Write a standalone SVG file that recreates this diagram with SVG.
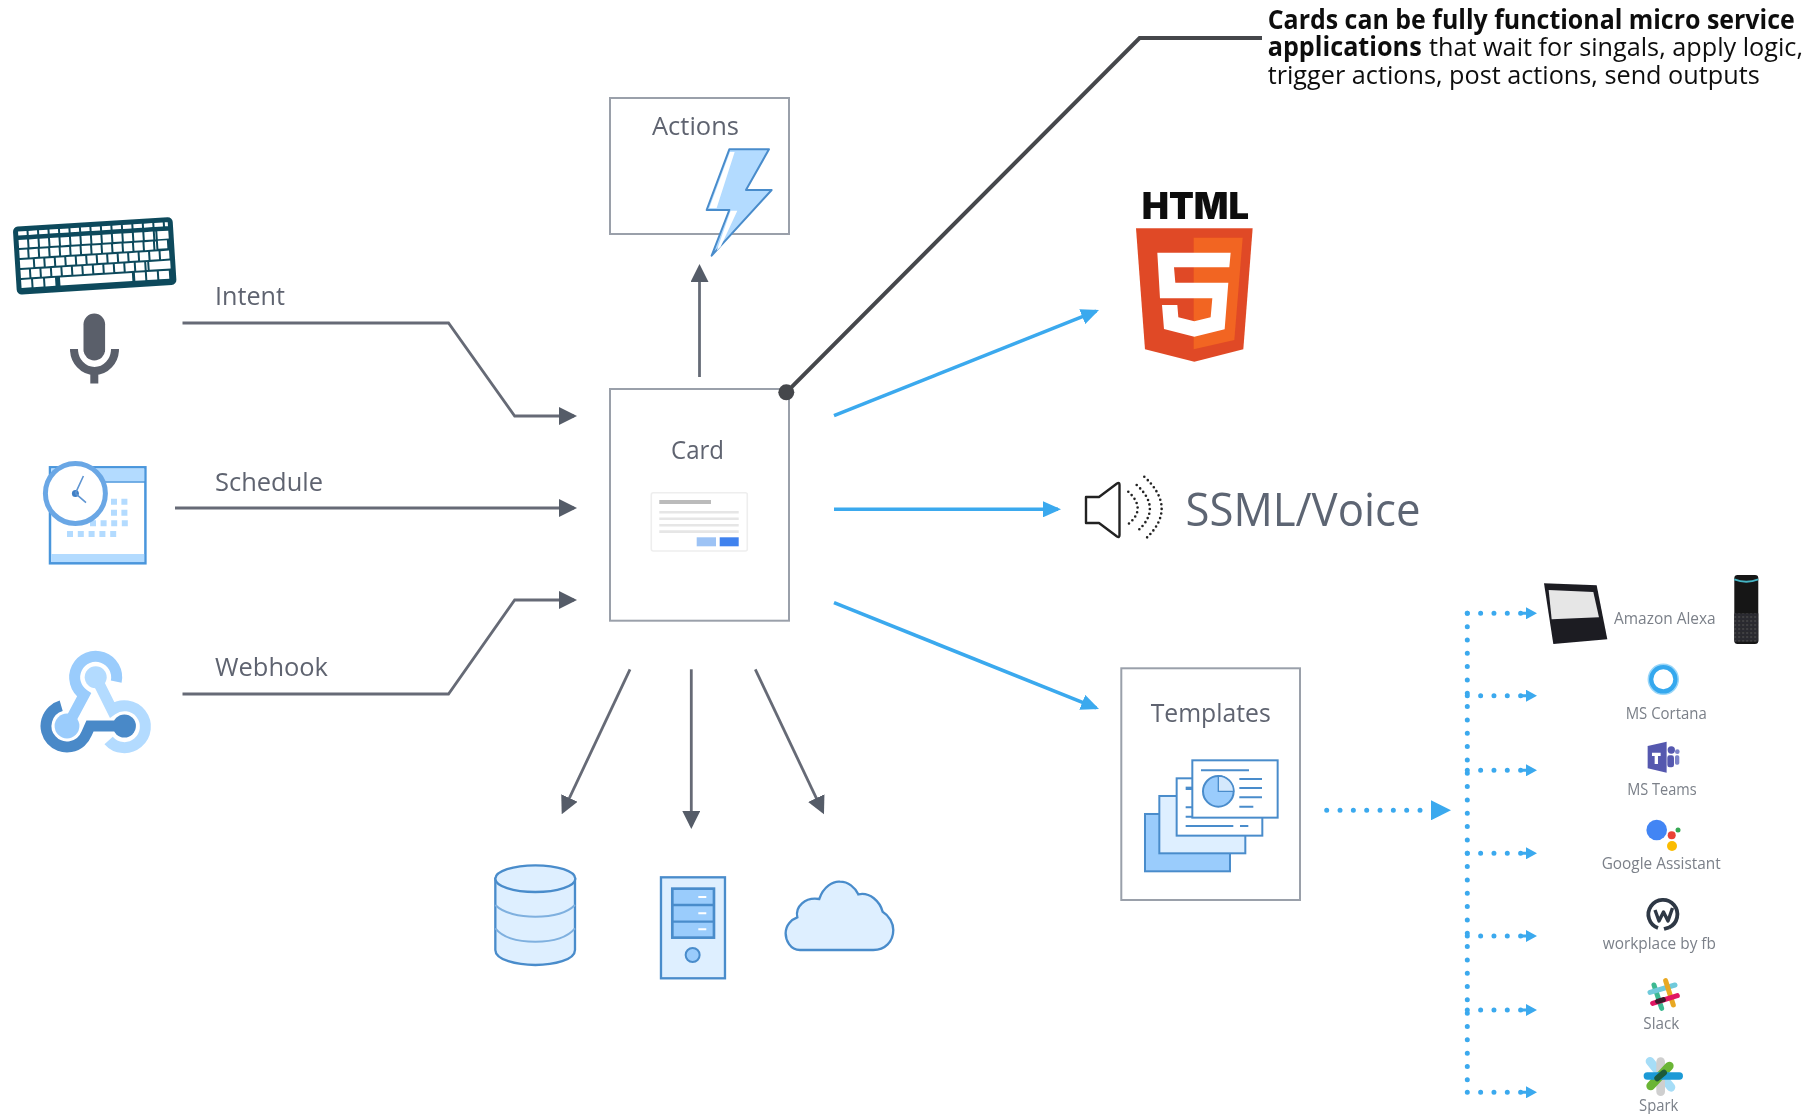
<svg xmlns="http://www.w3.org/2000/svg" width="1814" height="1114" viewBox="0 0 1814 1114">
<style>
text{font-family:"Open Sans","Noto Sans",sans-serif}
.lbl{font-size:25px;fill:#5f6470}
.sm{font-size:16.5px;fill:#7b8089}
.box{fill:#fff;stroke:#9aa0aa;stroke-width:2}
.g{fill:none;stroke:#666b76;stroke-width:2.8}
.b{fill:none;stroke:#3aa9ee;stroke-width:3.6}
.d{fill:none;stroke:#3aa9ee;stroke-width:5;stroke-linecap:round;stroke-dasharray:0 13.33}
.ic{stroke:#4a8ccb;stroke-width:7;fill:#deefff}
.ic2{stroke:#4a8ccb;stroke-width:6;fill:#9accfc}
.ln{stroke:#4a8ccb;stroke-width:6;fill:none}
.k{stroke:#fff;stroke-width:8;fill:none}
</style>
<defs>
<marker id="ga" markerUnits="userSpaceOnUse" markerWidth="18" markerHeight="18" refX="15" refY="9" orient="auto"><path d="M0 0L18 9L0 18z" fill="#555b67"/></marker>
<marker id="ba" markerUnits="userSpaceOnUse" markerWidth="18" markerHeight="16" refX="15" refY="8" orient="auto"><path d="M0 0L18 8L0 16z" fill="#3aa9ee"/></marker>
<marker id="da" markerUnits="userSpaceOnUse" markerWidth="20" markerHeight="20" refX="0" refY="10" orient="auto"><path d="M0 0L20 10L0 20z" fill="#3aa9ee"/></marker>
<marker id="ds" markerUnits="userSpaceOnUse" markerWidth="17" markerHeight="12" refX="6" refY="6" orient="auto"><path d="M0 4.5H6V0L17 6L6 12V7.5H0z" fill="#3aa9ee"/></marker>
<pattern id="sp" width="4" height="4" patternUnits="userSpaceOnUse"><rect width="4" height="4" fill="#1d1d22"/><circle cx="1" cy="1" r="1" fill="#6a6a6a"/><circle cx="3" cy="3" r=".8" fill="#4a4a4a"/></pattern>
<filter id="soft" x="0" y="0" width="100%" height="100%"><feGaussianBlur stdDeviation="0.5"/></filter>
</defs>
<rect width="1814" height="1114" fill="#fff"/>
<g filter="url(#soft)">

<g id="connectors">
<path class="g" marker-end="url(#ga)" d="M182.500 323H448.500L514.700 416H574"/>
<path class="g" marker-end="url(#ga)" d="M175 508H574"/>
<path class="g" marker-end="url(#ga)" d="M182.500 694H448.500L514.700 600H574"/>
<path class="g" marker-end="url(#ga)" d="M699.500 377V267"/>
<path class="g" marker-end="url(#ga)" d="M630 669.300L563 811.600"/>
<path class="g" marker-end="url(#ga)" d="M691.300 669.300V826"/>
<path class="g" marker-end="url(#ga)" d="M755.300 669.300L822.700 811.600"/>
<path d="M786.300 392.300L1139.600 38H1262" fill="none" stroke="#45474b" stroke-width="4"/>
<path class="b" marker-end="url(#ba)" d="M834 415.700L1096.200 311.100"/>
<path class="b" marker-end="url(#ba)" d="M834 509.300H1058"/>
<path class="b" marker-end="url(#ba)" d="M834 602.700L1096.200 707.900"/>
<path class="d" marker-end="url(#da)" d="M1326.700 810.300H1431"/>
<path class="d" d="M1467.300 613.300V1093"/>
<path class="d" marker-end="url(#ds)" d="M1467.300 613.300H1526"/>
<path class="d" marker-end="url(#ds)" d="M1467.300 695.700H1526"/>
<path class="d" marker-end="url(#ds)" d="M1467.300 770.300H1526"/>
<path class="d" marker-end="url(#ds)" d="M1467.300 853.300H1526"/>
<path class="d" marker-end="url(#ds)" d="M1467.300 936H1526"/>
<path class="d" marker-end="url(#ds)" d="M1467.300 1010H1526"/>
<path class="d" marker-end="url(#ds)" d="M1467.300 1092.300H1526"/>
</g>

<g id="label-intent"><text class="lbl" x="215" y="305" textLength="70" lengthAdjust="spacingAndGlyphs">Intent</text></g>
<g id="label-schedule"><text class="lbl" x="215" y="491" textLength="108" lengthAdjust="spacingAndGlyphs">Schedule</text></g>
<g id="label-webhook"><text class="lbl" x="215" y="676" textLength="113" lengthAdjust="spacingAndGlyphs">Webhook</text></g>

<g id="keyboard" transform="translate(94.700 255.800) rotate(-3.600)">
<rect x="-80" y="-34" width="160" height="68" rx="5" fill="#0c4a5c"/>
<path class="k" style="stroke-width:4;stroke-dasharray:8.500 2" d="M-75 -27H75"/>
<path class="k" style="stroke-dasharray:8.500 2" d="M-75 -16.500H62"/>
<path class="k" d="M64 -16.500H75M64 -7H73"/>
<path class="k" style="stroke-dasharray:8.500 2" d="M-65 -6.500H62"/>
<path class="k" d="M-75 -6.500H-67M-75 3.500H-62"/>
<path class="k" style="stroke-dasharray:8.500 2" d="M-60 3.500H75"/>
<path class="k" style="stroke-dasharray:8.500 2" d="M-75 13.500H52"/>
<path class="k" d="M54 13.500H75"/>
<path class="k" style="stroke-dasharray:10 2" d="M-75 23.500H-39"/>
<path class="k" d="M-36 23.500H36"/>
<path class="k" style="stroke-dasharray:10 2" d="M39 23.500H75"/>
</g>

<g id="microphone" fill="#5a5f6b">
<rect x="83.500" y="313.500" width="21.600" height="47" rx="10.800"/>
<path d="M74 349A20.500 22 0 0 0 115 349" fill="none" stroke="#5a5f6b" stroke-width="8"/>
<rect x="90.300" y="370" width="8" height="13.500"/>
</g>

<g id="calendar">
<rect x="50" y="467.300" width="95.400" height="96" fill="#fff" stroke="#4a96dc" stroke-width="2.500"/>
<rect x="51.200" y="468.500" width="93" height="13" fill="#b3dbff"/><path d="M50 482H145" stroke="#4a96dc" stroke-width="1.500"/>
<rect x="51.200" y="554" width="93" height="8" fill="#b3dbff"/>
<path d="M111 501.700H128M111 512.700H128" stroke="#b3dbff" stroke-width="6" stroke-dasharray="6 4.400"/>
<path d="M90 523.300H128" stroke="#b3dbff" stroke-width="6" stroke-dasharray="6 4.600"/>
<path d="M67 534H118" stroke="#b3dbff" stroke-width="6" stroke-dasharray="6 4.800"/>
<circle cx="75.400" cy="493.400" r="30" fill="#fff" stroke="#6ba7e5" stroke-width="5"/>
<circle cx="75.400" cy="493.400" r="3.500" fill="#3f7fc5"/>
<path d="M75.400 493.400L83.400 476M75.400 493.400L86 502.700" stroke="#5f95d2" stroke-width="1.600" fill="none"/>
</g>

<g id="webhook" fill="none" stroke-width="11">
<path d="M116.200 681.700A21 21 0 1 0 84.100 694.800L68 725" stroke="#9accfc"/>
<circle cx="67" cy="726" r="12.400" fill="#9accfc" stroke="none"/>
<path d="M95.700 677L112 709.700A21 21 0 1 1 108.600 740.500" stroke="#b3dbff"/>
<circle cx="95.700" cy="677.300" r="11" fill="#b3dbff" stroke="none"/>
<path d="M61.200 705.800A21 21 0 1 0 86.500 733.800L90 726H124" stroke="#4a89c8"/>
<circle cx="124.400" cy="726" r="11.500" fill="#4a89c8" stroke="none"/>
</g>

<g id="actions">
<rect class="box" x="610" y="98" width="179" height="136"/>
<text class="lbl" x="652" y="135" textLength="87" lengthAdjust="spacingAndGlyphs">Actions</text>
<g transform="translate(590 80) scale(.3333)">
<path d="M418 208H537L468 330H545L365 527L418 390H350Z" fill="#b3dbff" stroke="#4a8ccb" stroke-width="6" stroke-linejoin="round"/>
<path d="M420 216H434L380 384H358ZM422 392H442L392 500L380 512Z" fill="#fff"/>
</g>
</g>

<g id="card">
<rect class="box" x="610" y="389" width="179" height="231.700"/>
<text class="lbl" x="671" y="459" textLength="53" lengthAdjust="spacingAndGlyphs">Card</text>
<rect x="651.300" y="492.700" width="96" height="58.300" rx="2" fill="#fff" stroke="#eee" stroke-width="1.600"/>
<rect x="659.300" y="500" width="51.700" height="4" fill="#bbb"/>
<path d="M659.300 512.300H738.700M659.300 518.800H738.700M659.300 525.300H738.700M659.300 531.600H738.700" stroke="#e6e6e6" stroke-width="2.600"/>
<rect x="696.700" y="537.300" width="19.300" height="9" fill="#9dc3f5"/>
<rect x="719.700" y="537.300" width="19" height="9" fill="#3f82ee"/>
</g>
<circle id="anchor" cx="786.300" cy="392.300" r="8" fill="#45474b"/>

<g id="callout"><text x="1267.700" y="28.500" font-size="26" font-weight="700" fill="#111" textLength="527" lengthAdjust="spacingAndGlyphs">Cards can be fully functional micro service</text>
<text y="56" font-size="26" fill="#111"><tspan x="1267.700" font-weight="700" textLength="154" lengthAdjust="spacingAndGlyphs">applications</tspan> <tspan x="1429" textLength="374" lengthAdjust="spacingAndGlyphs">that wait for singals, apply logic,</tspan></text>
<text x="1267.700" y="84" font-size="26" fill="#111" textLength="492" lengthAdjust="spacingAndGlyphs">trigger actions, post actions, send outputs</text></g>

<g id="html5">
<text x="1141.700" y="219" font-size="37" font-weight="900" style="font-family:Inter,sans-serif" fill="#111" textLength="107.300" lengthAdjust="spacingAndGlyphs">HTML</text>
<g transform="translate(1100 160) scale(.3333)">
<path d="M108 205H458L430 568L283 605L135 568Z" fill="#e04a26"/>
<path d="M281 233H428L403 540L281 568Z" fill="#f26522"/>
<path d="M172 278H392L388 322H222L226 368H385L374 508L283 530L192 507L186 435H232L235 472L283 484L332 472L337 415H180Z" fill="#fff"/>
</g>
</g>

<g id="ssml">
<path d="M1086 497H1099L1117 483.500Q1119.500 482 1119.500 485V535Q1119.500 538 1117 536.500L1099 523H1086Z" fill="#fff" stroke="#222" stroke-width="2.400" stroke-linejoin="round"/>
<g fill="none" stroke="#222" stroke-linecap="round" stroke-dasharray="0 4.700" stroke-width="2.600">
<path d="M1128.300 491.700Q1147 509 1128.300 524"/>
<path d="M1136.700 485Q1163 509 1136.700 531.700"/>
<path d="M1144.300 476.700Q1179 509 1144.300 540"/>
</g>
<text x="1185.500" y="526" font-size="46" fill="#5d6573" textLength="235" lengthAdjust="spacingAndGlyphs">SSML/Voice</text>
</g>

<g id="templates">
<rect class="box" x="1121.300" y="668.300" width="178.700" height="231.700"/>
<text class="lbl" x="1150.700" y="721.700" textLength="120" lengthAdjust="spacingAndGlyphs">Templates</text>
<g transform="translate(1100 650) scale(.3333)">
<rect class="ic2" x="135" y="492" width="255" height="172"/>
<rect class="ic" style="stroke-width:6" x="178" y="438" width="258" height="172"/>
<rect class="ln" style="fill:#fff" x="230" y="385" width="257" height="172"/>
<path class="ln" d="M257 472H277M257 500H277M257 528H400M420 528H445"/><path class="ln" style="stroke-width:10" d="M257 415H277"/>
<rect class="ln" style="fill:#fff" x="277" y="331" width="256" height="172"/>
<circle class="ic2" cx="355" cy="424" r="46"/>
<path d="M355 424V378A46 46 0 0 1 401 424Z" fill="#d4e8fc" stroke="#4a8ccb" stroke-width="4"/>
<path class="ln" d="M303 361H447M418 387H486M418 414H486M418 442H486M418 470H460"/>
</g>
</g>

<g id="database" transform="translate(470 650) scale(.3333)">
<path class="ic" d="M76 686V900C76 930 140 945 196 945S315 930 315 900V686Z"/>
<path d="M76 765C100 790 150 800 196 800S290 790 315 765M76 835C100 865 150 875 196 875S290 865 315 835" fill="none" stroke="#7fb0df" stroke-width="6"/>
<ellipse class="ic" cx="196" cy="686" rx="120" ry="40"/>
</g>
<g id="server" transform="translate(470 650) scale(.3333)">
<rect class="ic" x="573" y="682" width="192" height="303"/>
<rect class="ic2" style="stroke-width:8" x="607" y="716" width="125" height="147"/>
<path d="M607 765H732M607 815H732" stroke="#4a8ccb" stroke-width="7"/>
<path d="M685 741H709M685 790H709M685 838H709" stroke="#fff" stroke-width="6"/>
<circle class="ic2" cx="668" cy="915" r="21"/>
</g>
<g id="cloud" transform="translate(470 650) scale(.3333)">
<path class="ic" d="M990 900C960 900 947 870 947 850C947 825 965 808 982 802C975 770 1005 740 1048 747C1060 710 1090 693 1110 695C1135 695 1155 712 1165 733C1200 725 1230 755 1238 785C1258 797 1270 820 1270 840C1270 875 1245 900 1210 900Z"/>
</g>

<g id="alexa">
<g transform="translate(1450 560) scale(.3333)">
<path d="M282 70L440 76L472 238L310 252Z" fill="#1b1b23"/>
<path d="M296 90L430 96L447 172L305 178Z" fill="#e6e6e6"/>
<rect x="853" y="45" width="72" height="207" rx="10" fill="#141416"/>
<path d="M853 58Q889 72 925 58" fill="none" stroke="#45b5c4" stroke-width="6"/>
<rect x="853" y="160" width="72" height="85" fill="url(#sp)"/>
</g>
<text class="sm" x="1614" y="624.300" textLength="101.700" lengthAdjust="spacingAndGlyphs">Amazon Alexa</text>
</g>

<g id="cortana">
<circle cx="1663.300" cy="679.300" r="12.500" fill="#fff" stroke="#35a8ee" stroke-width="5"/>
<circle cx="1663.300" cy="679.300" r="15" fill="none" stroke="#9ad6f8" stroke-width="1.500"/>
<text class="sm" x="1625.700" y="719" textLength="81" lengthAdjust="spacingAndGlyphs">MS Cortana</text>
</g>

<g id="teams">
<g transform="translate(1450 560) scale(.3333)">
<circle cx="664" cy="570" r="11" fill="#5558af"/><circle cx="682" cy="575" r="7" fill="#7b83c9"/>
<rect x="675" y="586" width="13" height="28" rx="5" fill="#7b83c9"/>
<rect x="652" y="586" width="20" height="36" rx="7" fill="#5558af"/>
<path d="M593 558L650 545V638L593 625Z" fill="#5558af"/>
<path d="M606 578H632V588H624V612H614V588H606Z" fill="#fff"/>
</g>
<text class="sm" x="1627.300" y="795" textLength="69.400" lengthAdjust="spacingAndGlyphs">MS Teams</text>
</g>

<g id="google-assistant">
<circle cx="1656.700" cy="830" r="10.300" fill="#4285f4"/>
<circle cx="1671.700" cy="835.300" r="4" fill="#ea4335"/>
<circle cx="1672" cy="846" r="5" fill="#fbbc05"/>
<circle cx="1678" cy="830" r="2.500" fill="#34a853"/>
<text class="sm" x="1601.700" y="869" textLength="119" lengthAdjust="spacingAndGlyphs">Google Assistant</text>
</g>

<g id="workplace">
<path d="M1669 927.500A14.500 14.500 0 1 0 1658 928M1669 927.500L1664 929" fill="none" stroke="#2d3745" stroke-width="3.800"/>
<path d="M1655 910L1659 921L1663.500 912L1668 921L1672.500 908" fill="none" stroke="#2d3745" stroke-width="3.400" stroke-linejoin="round"/>
<text class="sm" x="1602.700" y="949" textLength="113.300" lengthAdjust="spacingAndGlyphs">workplace by fb</text>
</g>

<g id="slack">
<g transform="translate(1450 830) scale(.3333)" fill="none" stroke-width="15" stroke-linecap="round">
<path d="M612 465L635 535" stroke="#3eb991"/>
<path d="M600 487L675 465" stroke="#70cadb"/>
<path d="M647 452L670 525" stroke="#e9a820"/>
<path d="M608 520L682 497" stroke="#e01563"/>
<path d="M623 514L640 509" stroke="#3a1a2a"/>
</g>
<text class="sm" x="1643.300" y="1029" textLength="36" lengthAdjust="spacingAndGlyphs">Slack</text>
</g>

<g id="spark">
<g transform="translate(1450 830) scale(.3333)" fill="none" stroke-linecap="round">
<path d="M600 694L663 772" stroke="#a6ddf7" stroke-width="26"/>
<path d="M632 695V785" stroke="#cfcfcf" stroke-width="26"/>
<path d="M602 768L658 708" stroke="#6bb536" stroke-width="26"/>
<path d="M592 738H688" stroke="#1a9ad6" stroke-width="22"/>
<path d="M622 745L642 728" stroke="#1f5a3a" stroke-width="18"/>
</g>
<text class="sm" x="1639" y="1110.700" textLength="39.300" lengthAdjust="spacingAndGlyphs">Spark</text>
</g>

</g>
</svg>
